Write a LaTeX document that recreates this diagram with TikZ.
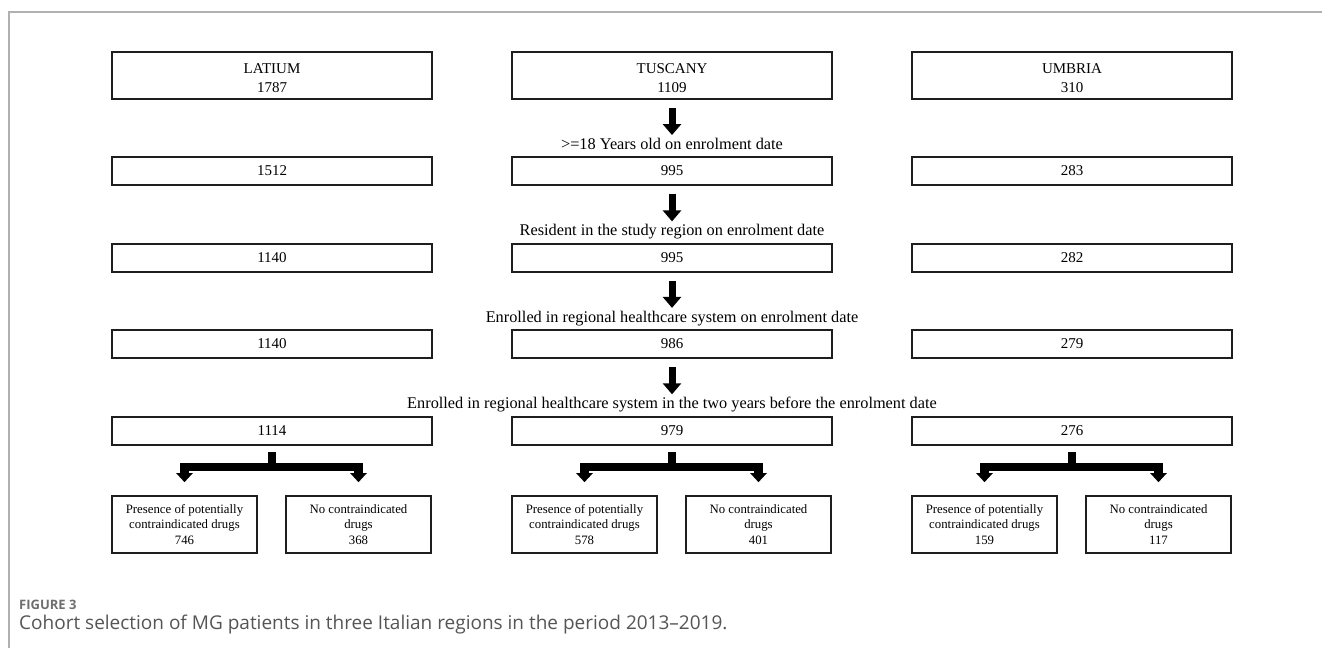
\documentclass[tikz,border=0pt]{standalone}
\usepackage{fontspec}
\setmainfont{Liberation Serif}
\newfontfamily\capfont{Open Sans}
\usetikzlibrary{arrows.meta}
\definecolor{framegray}{HTML}{B0B0B0}
\definecolor{capgray}{HTML}{555555}
\definecolor{figgray}{HTML}{6E6E6E}
\definecolor{boxline}{HTML}{1E1E1E}
\tikzset{
  box/.style={draw=boxline, line width=1.6pt, minimum width=320pt, inner sep=0pt, align=center,
    font=\fontsize{15}{19}\selectfont},
  rowbox/.style={box, minimum height=28pt},
  topbox/.style={box, minimum height=47pt},
  leafbox/.style={draw=boxline, line width=1.6pt, minimum width=145pt, minimum height=57pt, inner sep=0pt,
    align=center, font=\fontsize{12.8}{15.5}\selectfont},
  crit/.style={inner sep=0pt, font=\fontsize{16.3}{18}\selectfont},
  bigarrow/.style={line width=7pt, -{Triangle[width=18pt,length=11pt]}, shorten <=8pt, shorten >=3pt},
  forkstem/.style={line width=8pt, shorten <=6pt},
  forklegs/.style={line width=8.5pt, line join=miter,
    {Triangle[width=16pt,length=9pt]}-{Triangle[width=16pt,length=9pt]}, shorten <=13pt, shorten >=13pt},
}
\newcommand{\topstrut}{\rule{0pt}{15pt}}
\begin{document}
\begin{tikzpicture}[x=1pt,y=-1pt]
\useasboundingbox (0,0) rectangle (1322,648);
\fill[white] (0,0) rectangle (1322,648);
\draw[framegray, line width=1.3pt] (9,648) -- (9,12) -- (1322,12);

% row 1
\node[topbox] (l1) at (272,75.5) {\topstrut LATIUM\\1787};
\node[topbox] (t1) at (672,75.5) {\topstrut TUSCANY\\1109};
\node[topbox] (u1) at (1072,75.5) {\topstrut UMBRIA\\310};
% row 2
\node[rowbox] (l2) at (272,171) {1512};
\node[rowbox] (t2) at (672,171) {995};
\node[rowbox] (u2) at (1072,171) {283};
% row 3
\node[rowbox] (l3) at (272,258) {1140};
\node[rowbox] (t3) at (672,258) {995};
\node[rowbox] (u3) at (1072,258) {282};
% row 4
\node[rowbox] (l4) at (272,344) {1140};
\node[rowbox] (t4) at (672,344) {986};
\node[rowbox] (u4) at (1072,344) {279};
% row 5
\node[rowbox] (l5) at (272,431) {1114};
\node[rowbox] (t5) at (672,431) {979};
\node[rowbox] (u5) at (1072,431) {276};

% criteria
\node[crit] (c1) at (672,144) {>=18 Years old on enrolment date};
\node[crit] (c2) at (672,232) {Resident in the study region on enrolment date};
\node[crit] (c3) at (672,318.5) {Enrolled in regional healthcare system on enrolment date};
\node[crit] (c4) at (672,405) {Enrolled in regional healthcare system in the two years before the enrolment date};

\draw[bigarrow] (t1) -- (c1);
\draw[bigarrow] (t2) -- (c2);
\draw[bigarrow] (t3) -- (c3);
\draw[bigarrow] (t4) -- (c4);

% leaves
\node[leafbox] (l6a) at (184.5,524.5) {Presence of potentially\\contraindicated drugs\\746};
\node[leafbox] (l6b) at (358.5,524.5) {No contraindicated\\drugs\\368};
\node[leafbox] (t6a) at (584.5,524.5) {Presence of potentially\\contraindicated drugs\\578};
\node[leafbox] (t6b) at (758.5,524.5) {No contraindicated\\drugs\\401};
\node[leafbox] (u6a) at (984.5,524.5) {Presence of potentially\\contraindicated drugs\\159};
\node[leafbox] (u6b) at (1158.5,524.5) {No contraindicated\\drugs\\117};

\coordinate (lj) at (272,467);
\coordinate (tj) at (672,467);
\coordinate (uj) at (1072,467);

\draw[forkstem] (l5) -- (lj);
\draw[forkstem] (t5) -- (tj);
\draw[forkstem] (u5) -- (uj);
\draw[forklegs] (l6a) |- (lj) -| (l6b);
\draw[forklegs] (t6a) |- (tj) -| (t6b);
\draw[forklegs] (u6a) |- (uj) -| (u6b);

% caption
\node[anchor=base west, inner sep=0pt, text=figgray, font=\capfont\bfseries\fontsize{13}{15}\selectfont] (fig) at (19,609) {FIGURE 3};
\node[anchor=base west, inner sep=0pt, text=capgray, font=\capfont\fontsize{19}{22}\selectfont] (cap) at (19,629) {Cohort selection of MG patients in three Italian regions in the period 2013–2019.};
\end{tikzpicture}
\end{document}
